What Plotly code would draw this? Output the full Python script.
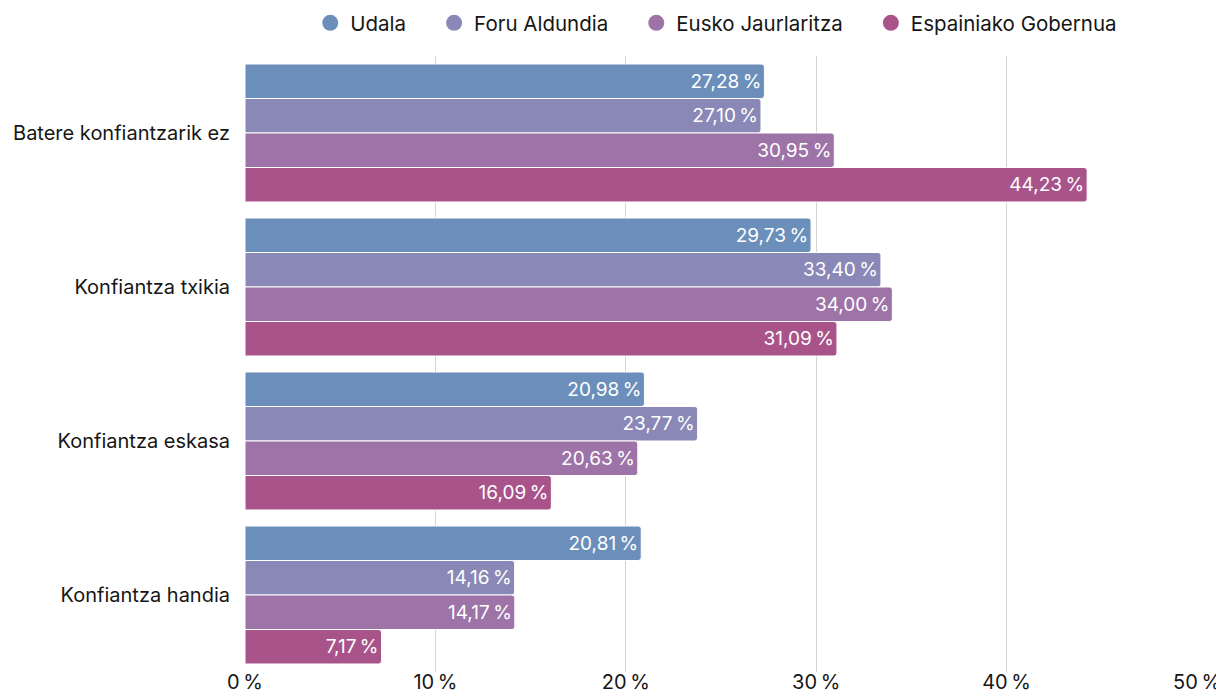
import plotly.graph_objects as go

categories = ["Batere konfiantzarik ez", "Konfiantza txikia", "Konfiantza eskasa", "Konfiantza handia"]
series_names = ["Udala", "Foru Aldundia", "Eusko Jaurlaritza", "Espainiako Gobernua"]
udala = [27.28, 29.73, 20.98, 20.81]
foru = [27.10, 33.40, 23.77, 14.16]
eusko = [30.95, 34.00, 20.63, 14.17]
espainia = [44.23, 31.09, 16.09, 7.17]
colors = ["#6b8fba", "#8a88b6", "#9d73a8", "#a8548a"]
tick_vals = [0, 10, 20, 30, 40, 50]

values = [udala, foru, eusko, espainia]
FONT = "Inter, Roboto, sans-serif"
TXT = "#161616"
PAD = "\u00a0" * 4

fig = go.Figure()
for name, vals, col in zip(series_names, values, colors):
    fig.add_trace(go.Bar(
        y=categories, x=vals, name=name, orientation="h",
        marker=dict(color=col, line=dict(color="white", width=1), cornerradius=3),
        text=[f"{v:.2f}".replace(".", ",") + "\u2009%" for v in vals],
        textposition="inside", insidetextanchor="end",
        textfont=dict(color="white", size=19, family=FONT),
        constraintext="none", cliponaxis=False,
        showlegend=False, hoverinfo="skip",
    ))
for i, (name, col) in enumerate(zip(series_names, colors)):
    label = name + (PAD if i < len(series_names) - 1 else "")
    fig.add_trace(go.Scatter(
        x=[None], y=[None], mode="markers", name=label,
        marker=dict(color=col, size=16, symbol="circle"), showlegend=True,
    ))

# page body has an 8px margin, so the figure is offset by (8, 8)
fig.update_layout(
    width=1216, height=685,
    barmode="group", bargap=0.104, bargroupgap=0,
    plot_bgcolor="white", paper_bgcolor="white",
    margin=dict(l=237, r=27, t=48, b=21, autoexpand=False),
    font=dict(family=FONT, size=20, color=TXT),
    legend=dict(orientation="h", x=0.495, xanchor="center", y=1.0536, yanchor="middle",
                font=dict(size=20.5, family=FONT, color=TXT), itemsizing="trace",
                traceorder="normal"),
    xaxis=dict(range=[0, 50], tickvals=tick_vals,
               ticktext=[f"{v}\u2009%" for v in tick_vals],
               showgrid=True, gridcolor="#d4d4d4", gridwidth=1,
               zeroline=False, showline=False, ticks="",
               ticklabelstandoff=-4,
               tickfont=dict(size=20, family=FONT, color=TXT)),
    yaxis=dict(autorange="reversed", showgrid=False, ticks="", showline=False,
               ticklabelstandoff=14, tickfont=dict(size=20, family=FONT, color=TXT)),
)
fig.write_html("out.html")
